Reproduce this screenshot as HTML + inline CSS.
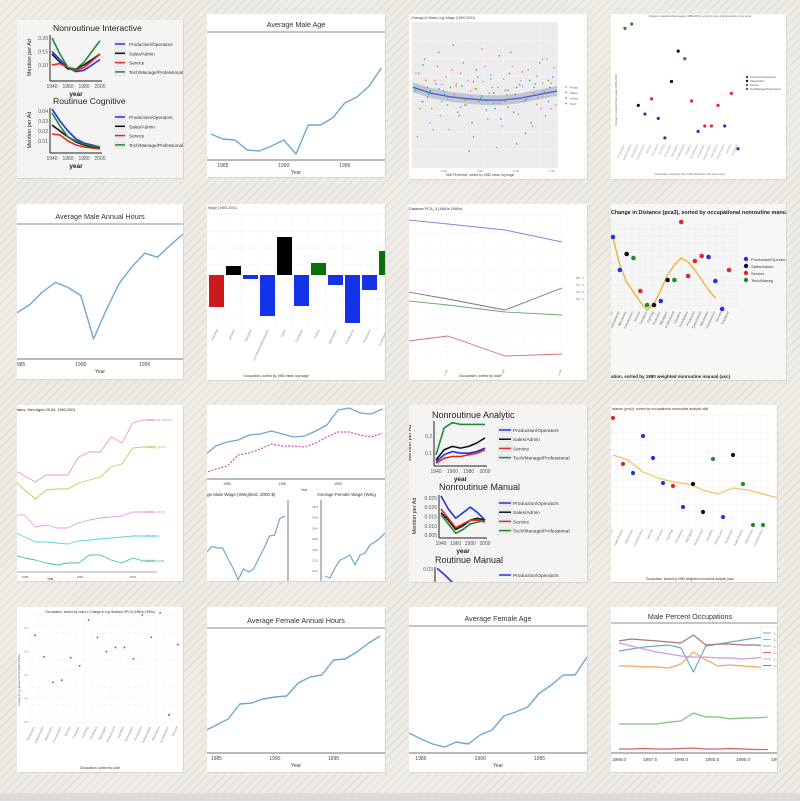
<!DOCTYPE html>
<html><head><meta charset="utf-8">
<style>
html,body{margin:0;padding:0;width:800px;height:801px;overflow:hidden;}
body{background:repeating-linear-gradient(135deg,#efece7 0px,#efece7 4px,#e6e2dc 4px,#e6e2dc 6px);}
svg{position:absolute;left:0;top:0;font-family:"Liberation Sans",sans-serif;}
</style></head>
<body>
<svg id="chart" width="800" height="801" viewBox="0 0 800 801"></svg>
<script>
// ===== DATA =====
const decadeYears=[1940,1950,1960,1970,1980,1990,2000];
const interBlue=[0.15,0.12,0.09,0.075,0.08,0.10,0.12];
const interBlack=[0.14,0.11,0.085,0.085,0.10,0.12,0.14];
const interRed=[0.10,0.105,0.09,0.08,0.09,0.115,0.14];
const interGreen=[0.20,0.14,0.09,0.085,0.11,0.15,0.19];
const cogBlue=[0.042,0.03,0.02,0.012,0.008,0.006,0.004];
const cogBlack=[0.026,0.02,0.014,0.009,0.006,0.004,0.003];
const cogRed=[0.017,0.016,0.01,0.006,0.004,0.003,0.002];
const cogGreen=[0.038,0.025,0.014,0.01,0.007,0.005,0.004];
const anaBlue=[0.05,0.09,0.11,0.10,0.10,0.11,0.13];
const anaBlack=[0.06,0.12,0.14,0.13,0.14,0.16,0.19];
const anaRed=[0.04,0.07,0.08,0.08,0.09,0.10,0.12];
const anaGreen=[0.09,0.25,0.28,0.27,0.27,0.27,0.27];
const manBlue=[0.026,0.019,0.014,0.017,0.020,0.017,0.013];
const manBlack=[0.017,0.013,0.008,0.010,0.013,0.014,0.013];
const manRed=[0.019,0.014,0.009,0.011,0.013,0.013,0.012];
const manGreen=[0.016,0.011,0.006,0.008,0.011,0.012,0.013];
const rmanBlue=[0.031,0.026,0.020,0.015,0.012,0.010,0.009];
const legendLabels=["Production/Operators","Sales/Admin","Service","Tech/Manage/Professional"];

const maleAgeYears=[1984,1985,1986,1987,1988,1989,1990,1991,1992,1993,1994,1995,1996,1997,1998];
const maleAgeValues=[36.6,36.1,36.0,35.0,34.9,35.4,36.0,34.6,37.5,37.5,38.2,39.7,40.3,41.4,43.2];

const maleHoursYears=[1985,1986,1987,1988,1989,1990,1991,1992,1993,1994,1995,1996,1997,1998];
const maleHoursValues=[2124,2140,2165,2184,2174,2158,2072,2130,2182,2215,2242,2234,2258,2280];

const wageChangeCats=["Farming","Service","Handlers","Construction/Extraction","Sales","Transport","Admin","Mechanics","Production","Protective","Professional"];
const wageChangeValues=[-0.32,0.09,-0.04,-0.41,0.38,-0.31,0.12,-0.10,-0.48,-0.15,0.24];
const wageChangeGroup=[2,1,0,0,1,0,3,0,0,0,3];

const pcaDecades=[1953,1960,1970,1980];
const pcaBlue=[160,156,150,138];
const pcaBlack=[88,81,70,92];
const pcaGreen=[79,75,68,65];
const pcaRed=[39,44,24,26];

const eduYears=[1984,1985,1986,1987,1988,1989,1990,1991,1992,1993,1994,1995,1996,1997];
const eduAdvanced=[105,99,93,100,100,100,118,123,123,138,132,152,155,155];
const eduCollege=[95,85,76,85,86,86,92,95,98,108,111,127,128,128];
const eduSome=[60,60,48,50,47,47,52,55,57,58,59,63,63,63];
const eduHS=[43,38,33,33,32,31,34,35,36,37,38,39,39,39];
const eduDrop=[20,17,15,12,10,12,12,20,20,15,12,17,14,14];
const eduLabels=["Advanced Degree","College grads","Some college","HS grads","HS Dropouts"];

const wageYears=[1983,1984,1985,1986,1987,1988,1989,1990,1991,1992,1993,1994,1995,1996,1997,1998,1999];
const wageMale=[25,34,38,40,45,46,49,46,43,44,49,55,70,72,67,66,71];
const wageFemale=[7,11,14,25,27,31,36,34,34,33,37,43,48,48,45,43,47];
const weightedMaleYears=[1983,1984,1985,1986,1987,1988,1989,1990,1991,1992,1993,1994,1995,1996,1997,1998];
const weightedMale=[35,42,40,40,27,15,0,14,10,14,28,40,55,56,77,80];
const weightedFemaleYears=[1983,1984,1985,1986,1987,1988,1989,1990,1991,1992,1993,1994,1995];
const weightedFemale=[2,0,10,18,20,23,13,23,25,33,36,40,45];

const occIdx=[0,1,2,3,4,5,6,7,8,9,10,11,12,13,14,15,16,17];
const distPca3=[143,110,126,122,89,75,75,79,100,100,158,104,119,124,123,99,71,110];
const distPca3Grp=[0,0,1,3,2,3,1,0,1,3,2,2,2,2,0,0,0,2];
const distCurve=[142,115,98,88,78,70,76,90,105,115,122,118,110,100,90,82];

const analyticIdx=[0,1,2,3,4,5,6,7,8,9,10,11,12,13,14,15];
const analyticDist=[164,118,109,146,124,99,96,75,98,70,123,65,127,98,57,57];
const analyticGrp=[2,2,0,0,0,0,2,0,1,1,3,0,1,3,3,3];
const analyticCurve=[127,122,110,104,100,98,92,88,94,92,88,84];

const logWagePct=[2,5,8,10,12,15,18,20,22,25,27,30,32,35,37,40,42,45,47,50,52,55,57,60,62,65,67,70,72,75,77,80,82,85,87,90,92,95,97,99,3,14,28,39,48,58,68,78,88,96,
1,4,6,9,11,13,16,17,19,21,23,24,26,29,31,33,34,36,38,41,43,44,46,49,51,53,54,56,59,61,63,64,66,69,71,73,74,76,79,81,83,84,86,89,91,93,94,96,98,7,
7,12,18,24,30,36,42,48,54,60,66,72,78,84,90,2,10,20,33,44,56,64,76,86,94];
const logWageChange=[0.3,-0.2,0.5,0.1,-0.4,0.2,0.6,-0.1,0.0,-0.5,0.35,0.15,-0.3,0.45,-0.15,0.05,-0.6,0.25,-0.05,0.4,-0.35,0.1,-0.2,0.55,-0.45,0.0,0.3,-0.25,-0.7,0.2,-0.1,0.35,-0.4,0.15,-0.05,0.5,-0.3,0.1,0.25,-0.15,-0.6,-0.5,0.7,-0.8,0.65,-0.75,0.6,-0.55,0.45,-0.2,
0.1,0.3,-0.1,0.2,0.0,-0.2,0.15,0.4,-0.3,0.05,0.25,-0.15,0.1,0.0,-0.25,0.3,0.12,-0.08,0.2,-0.4,0.08,0.35,-0.1,0.18,-0.22,0.02,0.28,-0.12,0.1,-0.35,0.22,0.06,-0.18,0.4,0.0,-0.28,0.14,0.32,-0.06,0.2,-0.45,0.1,0.26,-0.2,0.04,0.5,-0.1,0.16,0.38,0.42,
-0.1,0.05,0.08,-0.05,0.12,-0.15,0.18,-0.02,0.22,-0.12,0.06,0.1,-0.08,0.02,0.16,0.06,-0.04,0.14,-0.18,0.08,0.02,-0.1,0.12,-0.14,0.2];
const logWageGroup=[0,1,2,3,4,0,1,2,3,4,0,1,2,3,4,0,1,2,3,4,0,1,2,3,4,0,1,2,3,4,0,1,2,3,4,0,1,2,3,4,0,1,2,3,4,0,1,2,3,4,
3,0,4,1,2,0,3,1,4,2,0,3,1,4,2,0,3,1,4,2,0,3,1,4,2,0,3,1,4,2,0,3,1,4,2,0,3,1,4,2,0,3,1,4,2,0,3,1,4,2,
1,2,3,4,0,1,2,3,4,0,1,2,3,4,0,2,3,4,0,1,2,3,4,0,1];
const smoothPct=[0,12.5,25,37.5,50,62.5,75,87.5,100];
const smoothChange=[0.1,0.02,-0.03,-0.06,-0.08,-0.08,-0.05,0.0,0.05];

const hourChangeIdx=[0,1,2,3,4,5,6,7,8,9,10,11,12,13,14,15,16,17];
const hourChange=[102,106,31,23,37,19,1,53,81,74,35,7,12,12,31,12,42,-9];
const hourChangeGrp=[3,3,1,0,2,0,0,1,1,3,2,0,2,2,2,0,2,0];

const costIdx=[0,1,2,3,4,5,6,7,8,9,10,11,12,13,14,15,16];
const costDist=[84,63,38,40,62,54,99,82,68,72,72,61,104,82,106,6,75];

const femHoursYears=[1984,1985,1986,1987,1988,1989,1990,1991,1992,1993,1994,1995,1996,1997,1998,1999];
const femHoursValues=[22,28,34,49,50,54,56,57,70,76,78,93,94,101,110,117];

const femAgeYears=[1984,1985,1986,1987,1988,1989,1990,1991,1992,1993,1994,1995,1996,1997,1998,1999];
const femAgeValues=[20,14,9,6,11,9,18,23,37,41,46,60,68,78,78,96];

const occYears=[1985,1986,1987,1988,1989,1990,1991,1992,1993,1994,1995,1996,1997];
const occBlue=[78.5,80,81.5,82.3,83,80.8,62.3,82.3,83.8,85.4,86.9,88.5,89.2];
const occOrange=[66.9,66.9,66.2,66.2,65.4,68.5,77.7,71.5,66.9,67.7,66.9,66.2,65.4];
const occGreen=[22.3,22.3,22.3,22.3,23.8,24.6,30.8,27.7,27.7,26.2,26.9,26.9,27.7];
const occRed=[3.1,3.1,3.5,3.1,3.1,3.5,3.8,3.1,3.1,3.5,3.1,2.7,2.7];
const occPurple=[84.6,82.3,80,77.7,76.2,74.6,73.8,73.8,73.1,73.1,72.3,73.1,73.8];
const occBrown=[86.2,87.7,86.9,86.2,85.4,84.6,90.8,83.1,83.8,83.8,83.1,83.1,82.3];

// ===== HELPERS =====
const NS="http://www.w3.org/2000/svg";
const svg=document.getElementById('chart');
const defs=document.createElementNS(NS,'defs');svg.appendChild(defs);
let clipN=0;
function mk(tag,attrs,parent,nm){const e=document.createElementNS(NS,tag);for(const k in attrs)e.setAttribute(k,attrs[k]);(parent||svg).appendChild(e);


return e;}
function lin(d0,d1,r0,r1){return v=>r0+(v-d0)/(d1-d0)*(r1-r0);}
function txt(p,x,y,s,size,o,nm){o=o||{};const t=mk('text',{x:x,y:y,'font-size':size,fill:o.fill||'#333','text-anchor':o.anchor||'start','font-weight':o.weight||'normal'},p,nm||'label');if(o.rot)t.setAttribute('transform','rotate('+o.rot+' '+x+' '+y+')');t.textContent=s;return t;}
function group(nm){return mk('g',{},svg,nm);}
function tile(g,x,y,w,h,fill,nm){mk('rect',{x:x+1,y:y+1,width:w,height:h,fill:'#d8d4ce'},svg,nm+'-shadow');svg.appendChild(g);
const cp=document.createElementNS(NS,'clipPath');cp.setAttribute('id','clip'+(++clipN));const r=document.createElementNS(NS,'rect');r.setAttribute('x',x);r.setAttribute('y',y);r.setAttribute('width',w);r.setAttribute('height',h);cp.appendChild(r);defs.appendChild(cp);
g.setAttribute('clip-path','url(#clip'+clipN+')');
return mk('rect',{x:x,y:y,width:w,height:h,fill:fill},g,nm);}
function line(g,xs,ys,X,Y,color,w,nm,dash){const pts=xs.map((v,i)=>X(v).toFixed(1)+','+Y(ys[i]).toFixed(1)).join(' ');const a={points:pts,fill:'none',stroke:color,'stroke-width':w,'stroke-linejoin':'round'};if(dash)a['stroke-dasharray']=dash;return mk('polyline',a,g,nm);}
function dots(g,xs,ys,X,Y,cols,r,nm){xs.forEach((v,i)=>{mk('circle',{cx:X(v),cy:Y(ys[i]),r:r,fill:cols[i]},g,nm+'-'+i);});}
function vgrid(g,x0,x1,y0,y1,step,col){for(let x=x0;x<=x1;x+=step)mk('line',{x1:x,y1:y0,x2:x,y2:y1,stroke:col,'stroke-width':0.5},g,'grid-line');for(let y=y0;y<=y1;y+=step)mk('line',{x1:x0,y1:y,x2:x1,y2:y,stroke:col,'stroke-width':0.5},g,'grid-line');}
function rotLabels(g,xs,y,names,color,size){xs.forEach((x,i)=>txt(g,x,y,names[i%names.length],size||3.5,{fill:color||'#888',anchor:'end',rot:-65},'x-tick-label'));}
const GG=['#2433e0','#111111','#e0282a','#1f8a2c'];
const occNames=["Production","Sales/Admin","Mechanics","Construction","Service","Transport","Farming","Protective","Managers","Professional","Handlers","Technicians"];

// ===== T1 ggplot panels =====
(function(){const g=group('tile-routine-interactive');tile(g,17,20,166,158,'#f4f4f4','tile-background');
function panel(title,ty,yTicks,yd,box,series,legY){txt(g,53,ty,title,8.6,{fill:'#222'},'panel-title');
const X=lin(1940,2000,box[0]+2,box[2]-2),Y=lin(yd[0],yd[1],box[3],box[1]);
mk('line',{x1:box[0],y1:box[1],x2:box[0],y2:box[3]+1,stroke:'#222','stroke-width':1},g,'y-axis');
mk('line',{x1:box[0],y1:box[3]+1,x2:box[2],y2:box[3]+1,stroke:'#222','stroke-width':1},g,'x-axis');
yTicks.forEach(t=>txt(g,box[0]-2,Y(t)+2,t.toFixed(2),5,{fill:'#555',anchor:'end'},'y-tick-label'));
[1940,1960,1980,2000].forEach(t=>txt(g,X(t),box[3]+8,String(t),5,{fill:'#555',anchor:'middle'},'x-tick-label'));
txt(g,(box[0]+box[2])/2,box[3]+16,'year',6.5,{fill:'#222',anchor:'middle',weight:'bold'},'x-axis-title');
txt(g,31,(box[1]+box[3])/2,'Mention per Ad',5.5,{fill:'#222',anchor:'middle',rot:-90},'y-axis-title');
series.forEach((s,i)=>line(g,decadeYears,s,X,Y,GG[i],1.6,'series-'+legendLabels[i].toLowerCase().replace(/\W+/g,'-')));
legendLabels.forEach((l,i)=>{mk('rect',{x:114,y:legY+i*9.3-4,width:12,height:8,fill:'#ebebeb'},g,'legend-key');mk('line',{x1:115,y1:legY+i*9.3,x2:125,y2:legY+i*9.3,stroke:GG[i],'stroke-width':1.5},g,'legend-swatch');txt(g,129,legY+i*9.3+2,l,4.6,{fill:'#333'},'legend-entry');});}
panel('Nonroutinue Interactive',31,[0.20,0.15,0.10],[0.044,0.211],[50,35,102,80],[interBlue,interBlack,interRed,interGreen],44);
panel('Routinue Cognitive',104,[0.04,0.03,0.02,0.01],[-0.001,0.043],[50,108,102,152],[cogBlue,cogBlack,cogRed,cogGreen],117);
})();

// ===== generic matplotlib line tile =====
function mplTile(nm,box,title,xd,yd,xs,ys,ticks,axisY,titleY){const g=group(nm);tile(g,box[0],box[1],box[2]-box[0],box[3]-box[1],'#ffffff','tile-background');
txt(g,(box[0]+box[2])/2,titleY,title,7.2,{fill:'#333',anchor:'middle'},'chart-title');
mk('line',{x1:box[0],y1:titleY+5,x2:box[2],y2:titleY+5,stroke:'#9aa3ad','stroke-width':1.2},g,'title-rule');
mk('line',{x1:box[0],y1:axisY,x2:box[2],y2:axisY,stroke:'#9aa3ad','stroke-width':1.5},g,'x-axis');
const X=lin(xd[0],xd[1],box[0],box[2]),Y=lin(yd[0],yd[1],axisY,titleY+5);
ticks.forEach(t=>txt(g,X(t),axisY+7,String(t),5,{fill:'#444',anchor:'middle'},'x-tick-label'));
txt(g,(box[0]+box[2])/2,axisY+14,'Year',5,{fill:'#444',anchor:'middle'},'x-axis-title');
line(g,xs,ys,X,Y,'#6ea8d0',1.4,'series-line');return g;}
mplTile('tile-average-male-age',[207,14,385,177],'Average Male Age',[1983.7,1998.3],[34,46.8],maleAgeYears,maleAgeValues,[1985,1990,1995],160,27);
const hrs=mplTile('tile-average-male-hours',[17,204,183,379],'Average Male Annual Hours',[1985,1998],[2032,2300],maleHoursYears,maleHoursValues,[1990,1995],359,219);
txt(hrs,17,366,'985',5,{fill:'#444'},'x-tick-label');
mplTile('tile-average-female-hours',[207,607,385,772],'Average Female Annual Hours',[1984.2,1999.4],[0,125],femHoursYears,femHoursValues,[1985,1990,1995],753,623);
mplTile('tile-average-female-age',[409,607,587,772],'Average Female Age',[1984,1999],[0,127],femAgeYears,femAgeValues,[1985,1990,1995],753,621);

// ===== T3 log wage scatter =====
(function(){const g=group('tile-log-wage-change');tile(g,409,14,178,165,'#ffffff','tile-background');
txt(g,411,19,'Change in Mean Log Wage (1983-2001)',3.6,{fill:'#444'},'chart-title');
mk('rect',{x:412,y:22,width:146,height:146,fill:'#ececec'},g,'plot-panel');
vgrid(g,412,558,22,168,18.25,'#f6f6f6');
const X=lin(0,100,413,557),Y=lin(-1,1,165,24);const cols=['#f8766d','#a3a500','#00bf7d','#00b0f6','#e76bf3'];
const hi=smoothChange.map(v=>v+0.07),lo=smoothChange.map(v=>v-0.07);
const band=smoothPct.map((p,i)=>X(p)+','+Y(hi[i])).concat(smoothPct.slice().reverse().map((p,j)=>X(p)+','+Y(lo[lo.length-1-j])));
mk('polygon',{points:band.join(' '),fill:'#b8bcc8',opacity:0.8},g,'confidence-band');
dots(g,logWagePct,logWageChange,X,Y,logWageGroup.map(c=>cols[c]),0.8,'point');
line(g,smoothPct,smoothChange,X,Y,'#3f5fd8',1.3,'smooth-line');
[0.25,0.5,0.75,1.0].forEach(t=>txt(g,X(t*100)-8,172,t.toFixed(2),3,{fill:'#777'},'x-tick-label'));
txt(g,480,176,'Skill Percentile, sorted by 1980 mean log wage',3.3,{fill:'#444',anchor:'middle'},'x-axis-title');
['Produ','Sales','Servic','Tech'].forEach((l,i)=>{mk('circle',{cx:566,cy:87+i*5.5,r:0.9,fill:cols[i]},g,'legend-dot');txt(g,570,88.5+i*5.5,l,3,{fill:'#555'},'legend-entry');});
})();

// ===== T4 hours change scatter =====
(function(){const g=group('tile-hours-change-scatter');tile(g,611,14,175,165,'#ffffff','tile-background');
txt(g,700,17,'Change in weighted fixed wages (1983-2001), sorted by sum of all social ties in the sector',2.6,{fill:'#555',anchor:'middle'},'chart-title');
const X=lin(0,17,625,738),Y=lin(0,106,139,24);
dots(g,hourChangeIdx,hourChange,X,Y,hourChangeGrp.map(c=>GG[c]),1.6,'point');
rotLabels(g,hourChangeIdx.map(i=>X(i)),145,occNames,'#999',3);
['Production/Operations','Sales/Admin','Service','Tech/Manage/Professional'].forEach((l,i)=>{mk('circle',{cx:747,cy:77+i*4,r:1.2,fill:GG[i]},g,'legend-dot');txt(g,750,78+i*4,l,2.6,{fill:'#555'},'legend-entry');});
txt(g,690,175,'Occupation, sorted by sum of all social ties in the sector (asc)',2.6,{fill:'#666',anchor:'middle'},'x-axis-title');
txt(g,617,100,'Change in weighted fixed wages (1983-2001)',2.6,{fill:'#666',anchor:'middle',rot:-90},'y-axis-title');
})();

// ===== T6 bar chart =====
(function(){const g=group('tile-wage-change-bars');tile(g,207,204,178,176,'#ffffff','tile-background');
txt(g,208,209,'Wage (1983-2001)',3.5,{fill:'#444'},'chart-title');
vgrid(g,207,385,214,330,17,'#eeeeee');
const X=lin(0,11,209,396),Y=lin(0,1,275,175);const cols=['#1432e8','#000000','#cc1a1a','#0a6e0a'];
wageChangeValues.forEach((v,i)=>{const y0=Y(Math.max(0,v)),y1=Y(Math.min(0,v));const b=mk('rect',{x:X(i),y:y0,width:15,height:y1-y0,fill:cols[wageChangeGroup[i]]},g,'bar');
});
rotLabels(g,wageChangeValues.map((v,i)=>X(i)+9),330,wageChangeCats,'#888',3.3);
txt(g,276,377,'Occupation, sorted by 1980 mean log wage',3.4,{fill:'#333',anchor:'middle'},'x-axis-title');
})();

// ===== T7 PCA lines =====
(function(){const g=group('tile-distance-pca3');tile(g,409,204,178,176,'#ffffff','tile-background');
txt(g,409,210,'Distance PCA_3 (1960s-1990s)',3.8,{fill:'#333'},'chart-title');
vgrid(g,409,562,214,362,19,'#f1f1f1');
const X=lin(1960,1980,448,562),Y=lin(0,100,380,280);
line(g,pcaDecades,pcaBlue,X,Y,'#7b86e0',0.9,'series-blue');
line(g,pcaDecades,pcaBlack,X,Y,'#777777',0.9,'series-black');
line(g,pcaDecades,pcaGreen,X,Y,'#6aa96a',0.9,'series-green');
line(g,pcaDecades,pcaRed,X,Y,'#d07070',0.9,'series-red');
[1960,1970,1980].forEach(t=>txt(g,X(t),370,'code',3,{fill:'#888',anchor:'end',rot:-65},'x-tick-label'));
txt(g,480,377,'Occupation, sorted by code',3.5,{fill:'#333',anchor:'middle'},'x-axis-title');
['#777','#999','#d07070','#7b86e0'].forEach((c,i)=>{mk('line',{x1:576,y1:278+i*7,x2:580,y2:278+i*7,stroke:c,'stroke-width':0.8},g,'legend-swatch');txt(g,582,279+i*7,'S',2.6,{fill:'#777'},'legend-entry');});
})();

// ===== T8 pca3 scatter =====
(function(){const g=group('tile-change-distance-manual');tile(g,611,204,175,176,'#f7f7f7','tile-background');
vgrid(g,611,740,222,310,7,'#e9e9e9');
txt(g,611,214,'Change in Distance (pca3), sorted by occupational nonroutine manual',5.4,{fill:'#222',weight:'bold'},'chart-title');
const X=lin(0,17,613,729),Y=lin(0,100,380,280);
line(g,occIdx.slice(0,16),distCurve,X,Y,'#f2b134',1.4,'loess-curve');
dots(g,occIdx,distPca3,X,Y,distPca3Grp.map(c=>GG[c]),2.3,'point');
rotLabels(g,occIdx.map(i=>X(i)),312,occNames,'#666',3.3);
['Production/Operators','Sales/Admin','Service','Tech/Manag'].forEach((l,i)=>{mk('circle',{cx:746,cy:259+i*7,r:2.2,fill:GG[i]},g,'legend-dot');txt(g,751,261+i*7,l,4,{fill:'#333'},'legend-entry');});
txt(g,611,378,'ation, sorted by 1980 weighted nonroutine manual (asc)',4.5,{fill:'#222',weight:'bold'},'x-axis-title');
})();

// ===== T9 education lines =====
(function(){const g=group('tile-education-wages');tile(g,17,405,166,176,'#ffffff','tile-background');
txt(g,17,411,'tatus, Men Aged 25-54, 1983-2001',3.8,{fill:'#222'},'chart-title');
const X=lin(1984.3,1997.8,17,163),Y=lin(0,100,575,475);
const cols=['#f29ab0','#c4cc5a','#e69ae8','#5fcde0','#44c49a'];
[eduAdvanced,eduCollege,eduSome,eduHS,eduDrop].forEach((s,i)=>{line(g,eduYears,s,X,Y,cols[i],0.9,'series-'+eduLabels[i].toLowerCase().replace(/\W+/g,'-'));txt(g,146,Y(s[s.length-1])+1,eduLabels[i],3.2,{fill:cols[i]},'series-label');});
mk('line',{x1:17,y1:572,x2:157,y2:572,stroke:'#555','stroke-width':0.6},g,'x-axis');
[[25,'1985'],[80,'1990'],[133,'2001']].forEach(t=>txt(g,t[0],578,t[1],3,{fill:'#555',anchor:'middle'},'x-tick-label'));
txt(g,47,580,'Year',3.2,{fill:'#333'},'x-axis-title');
})();

// ===== T10 wages =====
(function(){const g=group('tile-average-wages');tile(g,207,405,178,176,'#ffffff','tile-background');
const X=lin(1985,1995,227,338),Y=lin(0,100,480,380);
line(g,wageYears,wageMale,X,Y,'#6ea8d0',1.3,'series-male-wage');
line(g,wageYears,wageFemale,X,Y,'#d84fa8',1.2,'series-female-wage','2,1.5');
mk('line',{x1:207,y1:479,x2:385,y2:479,stroke:'#777','stroke-width':1},g,'x-axis');
[1985,1990,1995].forEach(t=>txt(g,X(t),485,String(t),3.4,{fill:'#444',anchor:'middle'},'x-tick-label'));
txt(g,304,491,'Year',3.4,{fill:'#444',anchor:'middle'},'x-axis-title');
txt(g,207,496,'ge Male Wage (Weighted, 2000 $)',4.5,{fill:'#333'},'subplot-title');
txt(g,317,496,'Average Female Wage (Weig',4.5,{fill:'#333'},'subplot-title');
mk('line',{x1:288,y1:500,x2:288,y2:582,stroke:'#555','stroke-width':0.8},g,'panel-border');
mk('line',{x1:321,y1:500,x2:321,y2:582,stroke:'#555','stroke-width':0.8},g,'y-axis');
const X2=lin(1983,1998,207,285),Y2=lin(0,100,580,500);
line(g,weightedMaleYears,weightedMale,X2,Y2,'#6ea8d0',1.2,'series-weighted-male-wage');
const X3=lin(1983,1995,325,385),Y3=lin(0,100,578,478);
line(g,weightedFemaleYears,weightedFemale,X3,Y3,'#6ea8d0',1.2,'series-weighted-female-wage');
['25.0','24.5','24.0','23.5','23.0','22.5','22.0','21.5'].forEach((l,i)=>txt(g,318,508+i*10.7,l,3,{fill:'#555',anchor:'end'},'y-tick-label'));
})();

// ===== T11 ggplot analytic/manual =====
(function(){const g=group('tile-nonroutine-analytic');tile(g,409,405,178,177,'#f4f4f4','tile-background');
function panel(title,tx,ty,box,yd,yTicks,dec,series,legY){txt(g,tx,ty,title,9,{fill:'#222'},'panel-title');
const X=lin(1940,2000,box[0]+2,box[2]-2),Y=lin(yd[0],yd[1],box[3],box[1]);
mk('line',{x1:box[0],y1:box[1],x2:box[0],y2:box[3]+1,stroke:'#222','stroke-width':1},g,'y-axis');
mk('line',{x1:box[0],y1:box[3]+1,x2:box[2],y2:box[3]+1,stroke:'#222','stroke-width':1},g,'x-axis');
yTicks.forEach(t=>txt(g,box[0]-2,Y(t)+2,t.toFixed(dec),5,{fill:'#555',anchor:'end'},'y-tick-label'));
[1940,1960,1980,2000].forEach(t=>txt(g,X(t),box[3]+8,String(t),5,{fill:'#555',anchor:'middle'},'x-tick-label'));
txt(g,(box[0]+box[2])/2,box[3]+16,'year',6.5,{fill:'#222',anchor:'middle',weight:'bold'},'x-axis-title');
txt(g,box[0]-23,(box[1]+box[3])/2,'Mention per Ad',5.5,{fill:'#222',anchor:'middle',rot:-90},'y-axis-title');
series.forEach((s,i)=>line(g,decadeYears,s,X,Y,GG[i],1.6,'series-'+i));
series.forEach((s,i)=>{mk('rect',{x:497,y:legY+i*9.2-4,width:16,height:8,fill:'#ebebeb'},g,'legend-key');mk('line',{x1:499,y1:legY+i*9.2,x2:511,y2:legY+i*9.2,stroke:GG[i],'stroke-width':1.5},g,'legend-swatch');txt(g,513,legY+i*9.2+2,legendLabels[i],4.8,{fill:'#333'},'legend-entry');});}
panel('Nonroutinue Analytic',432,418,[434,421,487,465],[0.03,0.29],[0.2,0.1],1,[anaBlue,anaBlack,anaRed,anaGreen],430);
panel('Nonroutinue Manual',439,490,[439,495,487,537],[0.004,0.0265],[0.025,0.020,0.015,0.010,0.005],3,[manBlue,manBlack,manRed,manGreen],503);
txt(g,435,563,'Routinue Manual',9,{fill:'#222'},'panel-title');
const X=lin(1940,2000,437,485),Y=lin(0,0.032,610,567);
mk('line',{x1:435,y1:567,x2:435,y2:582,stroke:'#222','stroke-width':1},g,'y-axis');
line(g,decadeYears,rmanBlue,X,Y,GG[0],1.6,'series-routine-manual');
txt(g,433,571,'0.03',5,{fill:'#555',anchor:'end'},'y-tick-label');
mk('line',{x1:499,y1:575,x2:511,y2:575,stroke:GG[0],'stroke-width':1.5},g,'legend-swatch');txt(g,513,577,legendLabels[0],4.8,{fill:'#333'},'legend-entry');
})();

// ===== T12 analytic scatter =====
(function(){const g=group('tile-change-distance-analytic');tile(g,611,405,166,177,'#ffffff','tile-background');
vgrid(g,611,770,415,530,6,'#f0f0f0');
txt(g,612,410,'istance (pca3), sorted by occupational nonroutine analytic skill',3.5,{fill:'#333'},'chart-title');
const X=lin(0,15,613,763),Y=lin(0,100,582,482);
line(g,[0,1.5,3,4.5,6,7.5,9,10.5,12,13.5,15,16.5],analyticCurve,X,Y,'#f5c060',1.2,'loess-curve');
dots(g,analyticIdx,analyticDist,X,Y,analyticGrp.map(c=>GG[c]),2.1,'point');
rotLabels(g,analyticIdx.map(i=>X(i)),530,occNames,'#888',3.2);
txt(g,690,580,'Occupation, sorted by 1980 weighted nonroutine analytic (asc)',3.2,{fill:'#333',anchor:'middle'},'x-axis-title');
})();

// ===== T13 cost scatter =====
(function(){const g=group('tile-cost-distance');tile(g,17,607,166,165,'#ffffff','tile-background');
vgrid(g,30,183,615,725,9,'#f0f0f0');
txt(g,100,613,'Occupation, sorted by costs v Change in log distance SPCA (1960s-1990s)',3.3,{fill:'#333',anchor:'middle'},'chart-title');
const X=lin(0,16,35,178),Y=lin(0,100,721,619);
const cols=costIdx.map(i=>i===0||i===16?'#5050c8':(i===15?'#333':'#c0306a'));
dots(g,costIdx,costDist,X,Y,cols,0.9,'point');
['0.6','0.4','0.2','0.0','-0.2'].forEach((l,i)=>txt(g,28,629+i*23.5,l,2.6,{fill:'#777',anchor:'end'},'y-tick-label'));
rotLabels(g,costIdx.map(i=>X(i)),727,occNames,'#888',3.2);
txt(g,20,680,'Change in log distance SPCA (1960s-1990s)',2.6,{fill:'#555',anchor:'middle',rot:-90},'y-axis-title');
txt(g,100,769,'Occupation, sorted by code',3.3,{fill:'#333',anchor:'middle'},'x-axis-title');
})();

// ===== T16 Male percent occupations =====
(function(){const g=group('tile-male-percent-occupations');tile(g,611,607,166,165,'#ffffff','tile-background');
txt(g,690,619,'Male Percent Occupations',7.2,{fill:'#333',anchor:'middle'},'chart-title');
mk('line',{x1:611,y1:623,x2:777,y2:623,stroke:'#9aa3ad','stroke-width':1.2},g,'title-rule');
mk('line',{x1:611,y1:753,x2:777,y2:753,stroke:'#9aa3ad','stroke-width':1.5},g,'x-axis');
const X=lin(1985,1995,619,743),Y=lin(0,100,753,623);
const cols=['#6ea8d0','#f4a460','#7cc47c','#e06060','#c79ee0','#a07878'];
[occBlue,occOrange,occGreen,occRed,occPurple,occBrown].forEach((s,i)=>line(g,occYears,s,X,Y,cols[i],1.2,'series-'+i));
['1985.0','1987.5','1990.0','1992.5','1995.0'].forEach((l,i)=>txt(g,X(1985+i*2.5),761,l,4.6,{fill:'#444',anchor:'middle'},'x-tick-label'));
txt(g,771,761,'199',4.6,{fill:'#444'},'x-tick-label');
mk('rect',{x:761,y:627,width:16,height:42,fill:'#fff',stroke:'#ddd','stroke-width':0.5},g,'legend-box');
cols.forEach((c,i)=>{mk('line',{x1:763,y1:633+i*6.5,x2:771,y2:633+i*6.5,stroke:c,'stroke-width':1},g,'legend-swatch');txt(g,774,634.5+i*6.5,'1',3,{fill:'#444'},'legend-entry');});
})();

mk('rect',{x:0,y:793,width:800,height:8,fill:'#dcdcdc'},svg,'bottom-bar');
</script>
</body></html>
